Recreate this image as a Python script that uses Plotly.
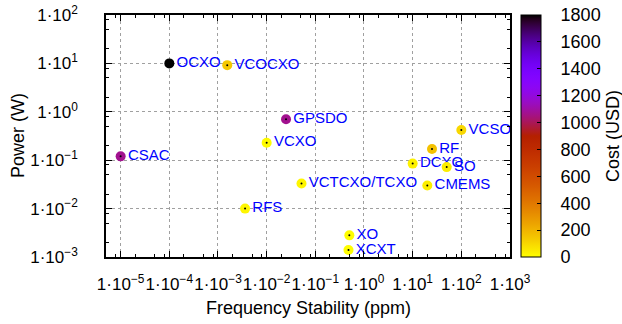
import math
import plotly.graph_objects as go

# ---- data ----
names = ["OCXO", "VCOCXO", "GPSDO", "VCXO", "CSAC", "RFS", "VCTCXO/TCXO",
         "XO", "XCXT", "DCXO", "RF", "SO", "CMEMS", "VCSO"]
stability_ppm = [1e-4, 1.55e-3, 0.025, 1e-2, 1e-5, 3.6e-3, 0.052,
                 0.5, 0.48, 10, 25, 50, 20, 100]
power_w = [10, 9.2, 0.7, 0.23, 0.12, 0.01, 0.033,
           0.0028, 0.0014, 0.085, 0.17, 0.072, 0.03, 0.42]
cost_usd = [1800, 140, 1070, 10, 1070, 20, 20, 5, 5, 30, 160, 40, 40, 100]

x_tickvals = [1e-5, 1e-4, 1e-3, 1e-2, 1e-1, 1e0, 1e1, 1e2, 1e3]
x_ticktext = ["1·10<sup>−5</sup>", "1·10<sup>−4</sup>", "1·10<sup>−3</sup>",
              "1·10<sup>−2</sup>", "1·10<sup>−1</sup>", "1·10<sup>0</sup>",
              "1·10<sup>1</sup>", "1·10<sup>2</sup>", "1·10<sup>3</sup>"]
y_tickvals = [1e-3, 1e-2, 1e-1, 1e0, 1e1, 1e2]
y_ticktext = ["1·10<sup>−3</sup>", "1·10<sup>−2</sup>", "1·10<sup>−1</sup>",
              "1·10<sup>0</sup>", "1·10<sup>1</sup>", "1·10<sup>2</sup>"]
cbar_tickvals = [0, 200, 400, 600, 800, 1000, 1200, 1400, 1600, 1800]
cbar_ticktext = ["0", "200", "400", "600", "800", "1000", "1200", "1400", "1600", "1800"]

# ---- gnuplot default palette (rgbformulae 7,5,15), negative ----
def pal(p):
    x = 1 - p
    r = math.sqrt(x)
    g = x ** 3
    b = max(0.0, math.sin(2 * math.pi * x))
    return "rgb(%d,%d,%d)" % (round(r * 255), round(g * 255), round(b * 255))

colorscale = [[i / 60, pal(i / 60)] for i in range(61)]

FONT = "Liberation Sans, Arial, Helvetica, sans-serif"
PAD = "\u00a0\u00a0\u00a0"

fig = go.Figure()

# labels (drawn first, under the dots)
fig.add_trace(go.Scatter(
    x=stability_ppm, y=power_w, mode="markers+text", text=names,
    textposition="middle right",
    textfont=dict(family=FONT, size=15, color="#0000ff"),
    marker=dict(size=10, opacity=0),
    hoverinfo="skip", showlegend=False, cliponaxis=False))

# coloured points
fig.add_trace(go.Scatter(
    x=stability_ppm, y=power_w, mode="markers",
    marker=dict(size=10, color=cost_usd, colorscale=colorscale, cmin=0, cmax=1800,
                line=dict(width=0),
                colorbar=dict(
                    x=1.027, xanchor="left", xpad=0, ypad=0,
                    y=0.5, yanchor="middle", len=1, lenmode="fraction",
                    thickness=20, thicknessmode="pixels",
                    outlinewidth=1, outlinecolor="black",
                    tickmode="array", tickvals=cbar_tickvals,
                    ticktext=[PAD + t for t in cbar_ticktext],
                    ticks="inside", ticklen=4, tickcolor="black",
                    tickfont=dict(family=FONT, size=18, color="black"))),
    showlegend=False, cliponaxis=False))

# small black centre dots
fig.add_trace(go.Scatter(
    x=stability_ppm, y=power_w, mode="markers",
    marker=dict(size=2, color="black"),
    hoverinfo="skip", showlegend=False, cliponaxis=False))

minor_vals = [m * 10 ** e for e in range(-6, 4) for m in (2, 5, 8)]

axis_common = dict(
    type="log", showline=True, linecolor="black", linewidth=1.5, mirror="ticks",
    ticks="inside", ticklen=6, tickwidth=1, tickcolor="black",
    showgrid=True, gridcolor="#a0a0a0", gridwidth=1, griddash="dot",
    zeroline=False, tickmode="array", tickangle=0,
    tickfont=dict(family=FONT, size=17, color="black"),
    minor=dict(tickmode="array", tickvals=minor_vals, ticks="inside",
               ticklen=3, tickcolor="black", showgrid=False),
)

fig.update_xaxes(axis_common, range=[math.log10(5e-6), 3],
                 tickvals=x_tickvals, ticktext=x_ticktext, ticklabelstandoff=11)
fig.update_yaxes(axis_common, range=[-3, 2],
                 tickvals=y_tickvals, ticktext=y_ticktext, ticklabelstandoff=23)

fig.update_layout(
    width=622, height=324,
    margin=dict(l=106, r=112, t=15, b=67, autoexpand=False),
    plot_bgcolor="white", paper_bgcolor="white",
    font=dict(family=FONT, color="black"),
    annotations=[
        dict(text="Frequency Stability (ppm)", xref="paper", yref="paper",
             x=0.5, y=0, yshift=-51, xanchor="center", yanchor="middle",
             showarrow=False, font=dict(family=FONT, size=18)),
        dict(text="Power (W)", xref="paper", yref="paper",
             x=0, xshift=-88, y=0.5, xanchor="center", yanchor="middle",
             textangle=-90, showarrow=False, font=dict(family=FONT, size=18)),
        dict(text="Cost (USD)", xref="paper", yref="paper",
             x=1, xshift=103, y=0.5, xanchor="center", yanchor="middle",
             textangle=-90, showarrow=False, font=dict(family=FONT, size=18)),
    ],
)

fig.write_html("out.html")
